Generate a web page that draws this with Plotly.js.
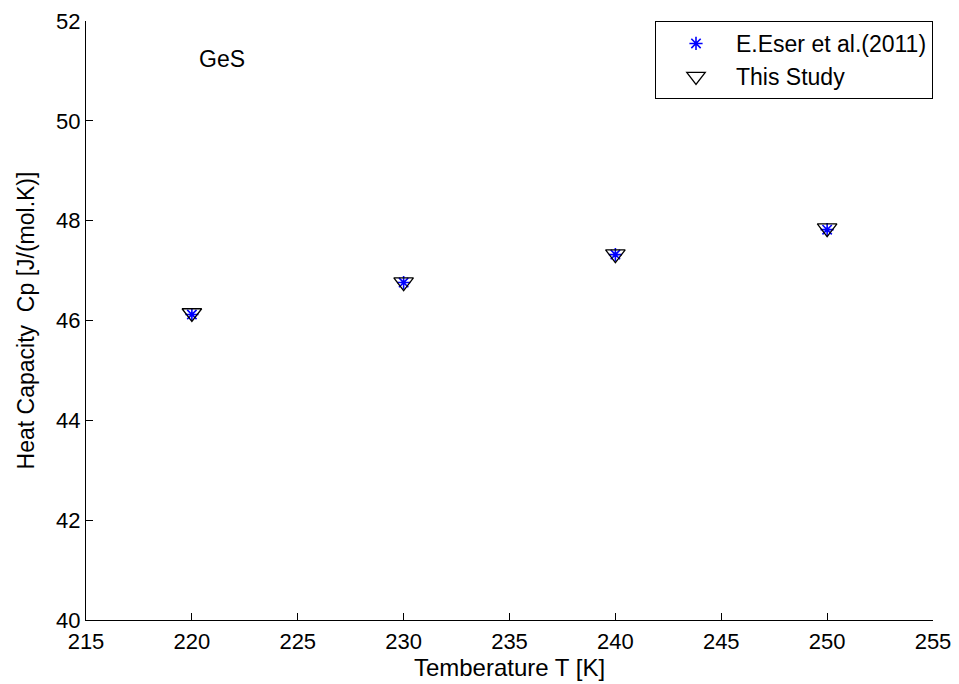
<!DOCTYPE html>
<html><head><meta charset="utf-8">
<script src="https://cdn.plot.ly/plotly-3.0.1.min.js"></script>
<style>body{margin:0;background:#fff}#chart{width:959px;height:684px}</style>
</head><body><div id="chart"></div>
<script>
const temps = [220, 230, 240, 250];
const eserCp = [46.12, 46.76, 47.32, 47.82];
const studyCp = [46.15, 46.77, 47.33, 47.85];
const xTicks = [215, 220, 225, 230, 235, 240, 245, 250, 255];
const yTicks = [40, 42, 44, 46, 48, 50, 52];

const font = {family: 'Liberation Sans, Arial, sans-serif', color: '#000'};
const f = s => Object.assign({size: s}, font);
const traces = [
  {x: temps, y: eserCp, mode: 'markers', name: 'E.Eser et al.(2011)', type: 'scatter',
   marker: {symbol: 'asterisk-open', size: 11, color: 'blue', line: {color: 'blue', width: 1.6}}},
  {x: temps, y: studyCp, mode: 'markers', name: 'This Study', type: 'scatter',
   marker: {symbol: 'triangle-down-open', size: 17, color: '#000', line: {color: '#000', width: 1.3}}}
];
const layout = {
  width: 959, height: 684,
  margin: {l: 86, r: 26, t: 21, b: 64},
  paper_bgcolor: '#fff', plot_bgcolor: '#fff',
  font: f(21),
  showlegend: true,
  legend: {x: 1, y: 1, xanchor: 'right', yanchor: 'top', bordercolor: '#000', borderwidth: 1,
    bgcolor: '#fff', font: f(23), tracegroupgap: 0, itemwidth: 70},
  xaxis: {range: [215, 255], tickvals: xTicks, ticktext: xTicks.map(String), showgrid: false, zeroline: false,
    showline: true, linecolor: '#000', linewidth: 1, ticks: 'inside', ticklen: 7, tickcolor: '#000',
    tickfont: f(22), ticklabelstandoff: 2,
    title: {text: 'Temberature T [K]', font: f(24), standoff: 4}},
  yaxis: {range: [40, 52], tickvals: yTicks, ticktext: yTicks.map(String), showgrid: false, zeroline: false,
    showline: true, linecolor: '#000', linewidth: 1, ticks: 'inside', ticklen: 7, tickcolor: '#000',
    tickfont: f(22),
    title: {text: 'Heat Capacity  Cp [J/(mol.K)]', font: f(23), standoff: 15}},
  annotations: [{x: 221.4, y: 51.24, xref: 'x', yref: 'y', text: 'GeS', showarrow: false, font: f(23)}]
};
Plotly.newPlot('chart', traces, layout, {displayModeBar: false, staticPlot: true});
</script></body></html>
